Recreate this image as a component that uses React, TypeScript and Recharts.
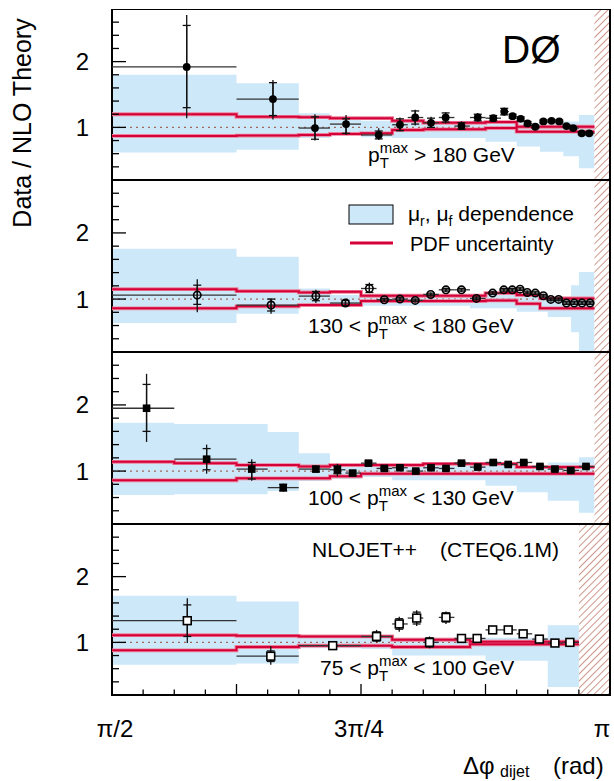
import React from 'react';
import {
  ComposedChart, Area, Line, Scatter, ErrorBar, XAxis, YAxis,
  ReferenceLine, ReferenceArea,
} from 'recharts';

const FONT = '"Liberation Sans", Arial, Helvetica, sans-serif';

// x axis: Δφ_dijet expressed in units of π
const xTicks = [0.5, 0.53125, 0.5625, 0.59375, 0.625, 0.65625, 0.6875, 0.71875, 0.75,
  0.78125, 0.8125, 0.84375, 0.875, 0.90625, 0.9375, 0.96875, 1];
const xMajorTicks = [0.5, 0.625, 0.75, 0.875, 1];
const xLabelValues = [0.5, 0.75, 1];
const xLabelTexts = ['π/2', '3π/4', 'π'];
const xLabelShift = [3, -2, -8];
const yTicks = [0.4, 0.6, 0.8, 1, 1.2, 1.4, 1.6, 1.8, 2, 2.2, 2.4, 2.6];
const yLabelValues = [1, 2];

// ---------- panel 1 : pTmax > 180 GeV ----------
const p1Edges = [0.5, 0.625, 0.6875, 0.7188, 0.75, 0.7813, 0.7969, 0.8125, 0.8281, 0.8438, 0.8594, 0.875, 0.8906,
  0.8984, 0.9063, 0.9141, 0.9219, 0.9297, 0.9375, 0.9453, 0.9531, 0.9609, 0.9688, 0.9766, 0.9844];
const p1X = [0.575, 0.6616, 0.7038, 0.735, 0.7678, 0.7891, 0.8044, 0.8203, 0.835, 0.8509, 0.8672, 0.8828,
  0.8938, 0.9022, 0.9103, 0.9172, 0.925, 0.9331, 0.9413, 0.9491, 0.9563, 0.9631, 0.9716, 0.9791];
const p1Y = [1.92, 1.43, 0.99, 1.05, 0.885, 1.04, 1.15, 1.07, 1.15, 1.02, 1.15, 1.14, 1.24, 1.17, 1.13, 1.06,
  1.01, 1.09, 1.10, 1.09, 1.02, 0.99, 0.91, 0.91];
const p1TotDn = [0.78, 0.31, 0.19, 0.165, 0.075, 0.10, 0.12, 0.08, 0.09, 0.06, 0.06, 0.05, 0.06, 0.04, 0.04, 0.04,
  0.03, 0.03, 0.03, 0.03, 0.03, 0.03, 0.03, 0.03];
const p1TotUp = [0.79, 0.29, 0.21, 0.14, 0.10, 0.11, 0.12, 0.09, 0.08, 0.07, 0.065, 0.05, 0.06, 0.04, 0.04, 0.04,
  0.03, 0.03, 0.03, 0.03, 0.03, 0.03, 0.03, 0.03];
const p1StatDn = [0.62, 0.25, 0.17, 0.14, 0.06, 0.09, 0.10, 0.07, 0.07, 0.05, 0.05, 0.04, 0.05, 0.03, 0.03, 0.03,
  0.02, 0.02, 0.02, 0.02, 0.02, 0.02, 0.02, 0.02];
const p1StatUp = [0.63, 0.25, 0.17, 0.08, 0.06, 0.09, 0.10, 0.07, 0.07, 0.05, 0.05, 0.04, 0.05, 0.03, 0.03, 0.03,
  0.02, 0.02, 0.02, 0.02, 0.02, 0.02, 0.02, 0.02];
const p1BandEdges = [0.5, 0.625, 0.6875, 0.7188, 0.75, 0.7813, 0.875, 0.9063, 0.9297, 0.9531, 0.9688, 0.9844];
const p1BandLo = [0.62, 0.66, 0.84, 0.90, 0.85, 0.84, 0.78, 0.71, 0.63, 0.56, 0.38];
const p1BandHi = [1.80, 1.67, 1.215, 1.16, 1.10, 1.10, 1.08, 1.06, 1.05, 1.09, 1.19];
const p1PdfEdges = [0.5, 0.625, 0.6875, 0.7188, 0.75, 0.7813, 0.8125, 0.875, 0.9063, 0.9844];
const p1PdfHi = [1.20, 1.16, 1.155, 1.14, 1.14, 1.10, 1.07, 1.08, 1.01];
const p1PdfLo = [0.87, 0.875, 0.885, 0.90, 0.91, 0.96, 0.97, 0.99, 0.935];

// ---------- panel 2 : 130 < pTmax < 180 GeV ----------
const p2Edges = [0.5, 0.625, 0.6875, 0.7188, 0.75, 0.7656, 0.7813, 0.7969, 0.8125, 0.8281, 0.8438, 0.8594, 0.875,
  0.8906, 0.8984, 0.9063, 0.9141, 0.9219, 0.9297, 0.9375, 0.9453, 0.9531, 0.9609, 0.9688, 0.9766, 0.9844];
const p2X = [0.5856, 0.6597, 0.7047, 0.7344, 0.7584, 0.7734, 0.7891, 0.8044, 0.82, 0.8353, 0.8509, 0.8659,
  0.8822, 0.8934, 0.9019, 0.9097, 0.9169, 0.925, 0.9331, 0.9406, 0.9484, 0.9563, 0.9641, 0.9719, 0.98];
const p2Y = [1.06, 0.91, 1.045, 0.94, 1.16, 0.99, 1.0, 0.98, 1.07, 1.14, 1.14, 1.01, 1.09, 1.14, 1.14, 1.15,
  1.10, 1.09, 1.05, 0.995, 0.995, 0.94, 0.94, 0.94, 0.94];
const p2TotDn = [0.26, 0.13, 0.105, 0.05, 0.07, 0.03, 0.03, 0.03, 0.03, 0.03, 0.03, 0.03, 0.03, 0.03, 0.03, 0.03,
  0.03, 0.03, 0.03, 0.03, 0.03, 0.03, 0.03, 0.03, 0.03];
const p2TotUp = [0.24, 0.10, 0.095, 0.05, 0.09, 0.03, 0.03, 0.03, 0.03, 0.03, 0.03, 0.03, 0.03, 0.03, 0.03, 0.03,
  0.03, 0.03, 0.03, 0.03, 0.03, 0.03, 0.03, 0.03, 0.03];
const p2StatDn = [0.14, 0.09, 0.07, 0.04, 0.06, 0.02, 0.02, 0.02, 0.02, 0.02, 0.02, 0.02, 0.02, 0.02, 0.02, 0.02,
  0.02, 0.02, 0.02, 0.02, 0.02, 0.02, 0.02, 0.02, 0.02];
const p2StatUp = [0.15, 0.09, 0.07, 0.04, 0.06, 0.02, 0.02, 0.02, 0.02, 0.02, 0.02, 0.02, 0.02, 0.02, 0.02, 0.02,
  0.02, 0.02, 0.02, 0.02, 0.02, 0.02, 0.02, 0.02, 0.02];
const p2BandEdges = [0.5, 0.625, 0.6875, 0.7188, 0.75, 0.8594, 0.9063, 0.9375, 0.9609, 0.9688, 0.9844];
const p2BandLo = [0.64, 0.78, 0.91, 0.88, 0.90, 0.86, 0.81, 0.73, 0.50, 0.2];
const p2BandHi = [1.76, 1.64, 1.16, 1.06, 1.05, 1.07, 1.05, 1.04, 1.21, 1.41];
const p2PdfEdges = [0.5, 0.625, 0.6875, 0.7188, 0.75, 0.875, 0.9063, 0.9297, 0.9844];
const p2PdfHi = [1.15, 1.12, 1.10, 1.11, 1.05, 1.09, 1.06, 1.01];
const p2PdfLo = [0.86, 0.89, 0.91, 0.91, 0.97, 0.98, 0.93, 0.86];

// ---------- panel 3 : 100 < pTmax < 130 GeV ----------
const p3Edges = [0.5, 0.5625, 0.625, 0.6563, 0.6875, 0.7188, 0.7344, 0.75, 0.7656, 0.7813, 0.7969, 0.8125, 0.8281,
  0.8438, 0.8594, 0.875, 0.8906, 0.9063, 0.9219, 0.9375, 0.9531, 0.9688, 0.9844];
const p3X = [0.5347, 0.595, 0.6403, 0.6719, 0.7047, 0.7263, 0.7416, 0.7575, 0.7734, 0.7891, 0.805, 0.8203,
  0.8353, 0.8509, 0.8672, 0.8828, 0.8978, 0.9134, 0.9297, 0.9447, 0.9606, 0.9759];
const p3Y = [1.95, 1.18, 1.03, 0.75, 1.03, 1.02, 0.97, 1.12, 1.04, 1.05, 1.0, 1.05, 1.04, 1.12, 1.06, 1.13,
  1.10, 1.13, 1.07, 1.03, 1.01, 1.07];
const p3TotDn = [0.51, 0.22, 0.175, 0.06, 0.05, 0.10, 0.04, 0.04, 0.03, 0.03, 0.03, 0.03, 0.03, 0.03, 0.03, 0.03,
  0.03, 0.03, 0.03, 0.03, 0.03, 0.03];
const p3TotUp = [0.52, 0.22, 0.15, 0.06, 0.05, 0.09, 0.04, 0.04, 0.03, 0.03, 0.03, 0.03, 0.03, 0.03, 0.03, 0.03,
  0.03, 0.03, 0.03, 0.03, 0.03, 0.03];
const p3StatDn = [0.35, 0.16, 0.15, 0.05, 0.04, 0.06, 0.03, 0.03, 0.02, 0.02, 0.02, 0.02, 0.02, 0.02, 0.02, 0.02,
  0.02, 0.02, 0.02, 0.02, 0.02, 0.02];
const p3StatUp = [0.36, 0.16, 0.10, 0.05, 0.04, 0.06, 0.03, 0.03, 0.02, 0.02, 0.02, 0.02, 0.02, 0.02, 0.02, 0.02,
  0.02, 0.02, 0.02, 0.02, 0.02, 0.02];
const p3BandEdges = [0.5, 0.5625, 0.6563, 0.6875, 0.7188, 0.75, 0.7813, 0.875, 0.9063, 0.9375, 0.9688, 0.9844];
const p3BandLo = [0.64, 0.65, 0.70, 0.85, 0.88, 0.91, 0.86, 0.78, 0.68, 0.55, 0.37];
const p3BandHi = [1.73, 1.71, 1.59, 1.27, 1.11, 1.08, 1.08, 1.08, 1.08, 1.13, 1.21];
const p3PdfEdges = [0.5, 0.5625, 0.625, 0.6875, 0.7188, 0.75, 0.8125, 0.9063, 0.9844];
const p3PdfHi = [1.14, 1.12, 1.09, 1.07, 1.09, 1.09, 1.11, 1.06];
const p3PdfLo = [0.86, 0.86, 0.89, 0.89, 0.92, 0.96, 0.96, 0.96];

// ---------- panel 4 : 75 < pTmax < 100 GeV ----------
const p4Edges = [0.5, 0.625, 0.6875, 0.75, 0.7813, 0.7969, 0.8125, 0.8281, 0.8438, 0.8594, 0.875, 0.8906, 0.9063,
  0.9219, 0.9375, 0.9531, 0.9688];
const p4X = [0.5756, 0.6594, 0.7216, 0.7656, 0.7884, 0.8059, 0.8188, 0.8353, 0.8509, 0.8666, 0.8822, 0.8978,
  0.9128, 0.9291, 0.9447, 0.9597];
const p4Y = [1.33, 0.79, 0.95, 1.09, 1.28, 1.37, 1.0, 1.38, 1.06, 1.06, 1.19, 1.19, 1.13, 1.05, 0.99, 1.00];
const p4TotDn = [0.34, 0.13, 0.05, 0.09, 0.12, 0.12, 0.09, 0.10, 0.03, 0.03, 0.03, 0.03, 0.03, 0.03, 0.03, 0.03];
const p4TotUp = [0.34, 0.15, 0.05, 0.10, 0.11, 0.12, 0.09, 0.09, 0.03, 0.03, 0.03, 0.03, 0.03, 0.03, 0.03, 0.03];
const p4StatDn = [0.24, 0.08, 0.04, 0.07, 0.08, 0.09, 0.07, 0.07, 0.02, 0.02, 0.02, 0.02, 0.02, 0.02, 0.02, 0.02];
const p4StatUp = [0.24, 0.08, 0.04, 0.07, 0.08, 0.09, 0.07, 0.07, 0.02, 0.02, 0.02, 0.02, 0.02, 0.02, 0.02, 0.02];
const p4BandEdges = [0.5, 0.625, 0.6875, 0.75, 0.7813, 0.875, 0.9375, 0.9688];
const p4BandLo = [0.66, 0.68, 0.91, 0.90, 0.80, 0.72, 0.32];
const p4BandHi = [1.71, 1.62, 1.09, 1.08, 1.07, 1.07, 1.26];
const p4PdfEdges = [0.5, 0.625, 0.6875, 0.7813, 0.8594, 0.9688];
const p4PdfHi = [1.11, 1.10, 1.09, 1.04, 1.01];
const p4PdfLo = [0.88, 0.93, 0.95, 0.93, 0.97];

const hatchStarts = [0.9844, 0.9844, 0.9844, 0.9688];

const BAND = '#cde8f9';
const RED = '#d3003a';
const RED_HALO = '#ee8199';
const HATCH = '#b0604a';

function bandRows(edges: number[], lo: number[], hi: number[]) {
  const rows = lo.map((l, i) => ({ x: edges[i], band: [l, hi[i]] }));
  rows.push({ x: edges[edges.length - 1], band: [lo[lo.length - 1], hi[hi.length - 1]] });
  return rows;
}
function pdfRows(edges: number[], lo: number[], hi: number[]) {
  const rows = lo.map((l, i) => ({ x: edges[i], lo: l, hi: hi[i] }));
  rows.push({ x: edges[edges.length - 1], lo: lo[lo.length - 1], hi: hi[hi.length - 1] });
  return rows;
}
function pointRows(edges: number[], xs: number[], ys: number[], td: number[], tu: number[], sd: number[], su: number[]) {
  return xs.map((x, i) => ({
    x, y: ys[i],
    ex: [x - edges[i], edges[i + 1] - x],
    et: [td[i], tu[i]],
    es: [sd[i], su[i]],
  }));
}

const filledCircle = (p: any) => <circle cx={p.cx} cy={p.cy} r={3.9} fill="#000" />;
const openCircle = (p: any) => <circle cx={p.cx} cy={p.cy} r={3.7} fill="none" stroke="#000" strokeWidth={1.6} />;
const filledSquare = (p: any) => <rect x={p.cx - 3.8} y={p.cy - 3.8} width={7.6} height={7.6} fill="#000" />;
const openSquare = (p: any) => (
  <rect x={p.cx - 3.9} y={p.cy - 3.9} width={7.8} height={7.8} fill="#fff" stroke="#000" strokeWidth={1.6} />
);

const panels = [
  {
    top: 9, height: 171, xh: 0, shape: filledCircle,
    pts: pointRows(p1Edges, p1X, p1Y, p1TotDn, p1TotUp, p1StatDn, p1StatUp),
    band: bandRows(p1BandEdges, p1BandLo, p1BandHi),
    pdf: pdfRows(p1PdfEdges, p1PdfLo, p1PdfHi),
  },
  {
    top: 180, height: 172, xh: 0, shape: openCircle,
    pts: pointRows(p2Edges, p2X, p2Y, p2TotDn, p2TotUp, p2StatDn, p2StatUp),
    band: bandRows(p2BandEdges, p2BandLo, p2BandHi),
    pdf: pdfRows(p2PdfEdges, p2PdfLo, p2PdfHi),
  },
  {
    top: 352, height: 172, xh: 0, shape: filledSquare,
    pts: pointRows(p3Edges, p3X, p3Y, p3TotDn, p3TotUp, p3StatDn, p3StatUp),
    band: bandRows(p3BandEdges, p3BandLo, p3BandHi),
    pdf: pdfRows(p3PdfEdges, p3PdfLo, p3PdfHi),
  },
  {
    top: 524, height: 257, xh: 86, shape: openSquare,
    pts: pointRows(p4Edges, p4X, p4Y, p4TotDn, p4TotUp, p4StatDn, p4StatUp),
    band: bandRows(p4BandEdges, p4BandLo, p4BandHi),
    pdf: pdfRows(p4PdfEdges, p4PdfLo, p4PdfHi),
  },
];

const near = (a: number, b: number) => Math.abs(a - b) < 1e-6;

const makeXTick = (showLabels: boolean) => (props: any) => {
  const { x, y, payload } = props;
  const v = payload.value;
  const major = xMajorTicks.some((m) => near(m, v));
  const len = major ? 11 : 5.5;
  const li = xLabelValues.findIndex((m) => near(m, v));
  return (
    <g>
      <line x1={x} x2={x} y1={y} y2={y - len} stroke="#000" strokeWidth={1.3} />
      {showLabels && li >= 0 && (
        <text x={x + xLabelShift[li]} y={y + 42} textAnchor="middle" fontSize={24} fontFamily={FONT} fill="#000">
          {xLabelTexts[li]}
        </text>
      )}
    </g>
  );
};

const YTick = (props: any) => {
  const { x, y, payload } = props;
  const v = payload.value;
  const major = yLabelValues.some((m) => near(m, v));
  const len = major ? 14 : 7;
  return (
    <g>
      <line x1={x} x2={x + len} y1={y} y2={y} stroke="#000" strokeWidth={1.3} />
      {major && (
        <text x={89} y={y + 8.5} textAnchor="end" fontSize={24} fontFamily={FONT} fill="#000">
          {String(v)}
        </text>
      )}
    </g>
  );
};

function Panel({ cfg, idx }: { cfg: any; idx: number }) {
  const hid = `hatch${idx}`;
  return (
    <div style={{ position: 'absolute', left: 0, top: cfg.top }}>
      <ComposedChart width={614} height={cfg.height} margin={{ top: 0, right: 4, bottom: 0, left: 0 }}>
        <defs>
          <pattern id={hid} patternUnits="userSpaceOnUse" width={5} height={5} patternTransform="rotate(45)">
            <rect x={0} y={0} width={5} height={5} fill="#fff" />
            <line x1={0} y1={0} x2={0} y2={5} stroke={HATCH} strokeWidth={1.3} />
          </pattern>
        </defs>
        <XAxis
          type="number" dataKey="x" domain={[0.5, 1]} ticks={xTicks} allowDataOverflow interval={0}
          height={cfg.xh} tickLine={false} axisLine={false} tickSize={0} tickMargin={0}
          tick={makeXTick(idx === 3)}
        />
        <YAxis
          type="number" domain={[0.2, 2.8]} ticks={yTicks} allowDataOverflow interval={0}
          width={112} tickLine={false} axisLine={false} tickSize={0} tickMargin={0} tick={YTick}
        />
        <Area
          data={cfg.band} dataKey="band" type="stepAfter" stroke="none" fill={BAND} fillOpacity={1}
          isAnimationActive={false} dot={false} activeDot={false}
        />
        <ReferenceLine
          segment={[{ x: 0.5, y: 1 }, { x: hatchStarts[idx], y: 1 }]}
          stroke="#a0685c" strokeWidth={1.4} strokeDasharray="2 4"
        />
        <Line data={cfg.pdf} dataKey="hi" type="stepAfter" stroke={RED_HALO} strokeWidth={3.8} dot={false} activeDot={false} isAnimationActive={false} />
        <Line data={cfg.pdf} dataKey="lo" type="stepAfter" stroke={RED_HALO} strokeWidth={3.8} dot={false} activeDot={false} isAnimationActive={false} />
        <Line data={cfg.pdf} dataKey="hi" type="stepAfter" stroke={RED} strokeWidth={2} dot={false} activeDot={false} isAnimationActive={false} />
        <Line data={cfg.pdf} dataKey="lo" type="stepAfter" stroke={RED} strokeWidth={2} dot={false} activeDot={false} isAnimationActive={false} />
        <ReferenceArea x1={hatchStarts[idx]} x2={1} y1={0.2} y2={2.8} fill={`url(#${hid})`} fillOpacity={1} stroke="none" />
        <Scatter data={cfg.pts} dataKey="y" shape={cfg.shape} isAnimationActive={false}>
          <ErrorBar dataKey="ex" direction="x" width={0} stroke="#333" strokeWidth={1.3} />
          <ErrorBar dataKey="et" direction="y" width={0} stroke="#111" strokeWidth={1.3} />
          <ErrorBar dataKey="es" direction="y" width={4} stroke="#111" strokeWidth={1.3} />
        </Scatter>
        <ReferenceArea x1={0.5} x2={1} y1={0.2} y2={2.8} fill="none" fillOpacity={0} stroke="#000" strokeWidth={2} />
      </ComposedChart>
    </div>
  );
}

function PtLabel({ x, y, pre, post }: { x: number; y: number; pre: string; post: string }) {
  return (
    <text x={x} y={y} fontSize={21} fontFamily={FONT} fill="#000">
      {pre}p
      <tspan fontSize={15} dy={-9}>max</tspan>
      <tspan fontSize={15} dx={-28.3} dy={15}>T</tspan>
      <tspan fontSize={21} dx={25} dy={-6}>{post}</tspan>
    </text>
  );
}

export default function App() {
  return (
    <div style={{ position: 'absolute', left: 0, top: 0, width: 614, height: 781, background: '#fff', overflow: 'hidden', fontFamily: FONT }}>
      {panels.map((cfg, i) => <Panel key={i} cfg={cfg} idx={i} />)}
      <svg width={614} height={781} style={{ position: 'absolute', left: 0, top: 0, pointerEvents: 'none' }}>
        <text transform="translate(31,123) rotate(-90)" textAnchor="middle" fontSize={25} fontFamily={FONT} fill="#000">
          Data / NLO Theory
        </text>
        <text x={502} y={63} fontSize={39} fontFamily={FONT} fill="#000">DØ</text>
        <PtLabel x={368} y={162} pre="" post="> 180 GeV" />
        <PtLabel x={308} y={333} pre="130 < " post="< 180 GeV" />
        <PtLabel x={308} y={505} pre="100 < " post="< 130 GeV" />
        <PtLabel x={320} y={675} pre="75 < " post="< 100 GeV" />
        <rect x={349} y={205} width={44} height={19} fill={BAND} stroke="#000" strokeWidth={1} />
        <text x={408} y={221} fontSize={21} fontFamily={FONT} fill="#000">
          μ<tspan fontSize={14} dy={5}>r</tspan>
          <tspan dy={-5}>, μ</tspan>
          <tspan fontSize={14} dy={5}>f</tspan>
          <tspan dy={-5}> dependence</tspan>
        </text>
        <line x1={350} x2={393} y1={243} y2={243} stroke={RED_HALO} strokeWidth={4} />
        <line x1={350} x2={393} y1={243} y2={243} stroke={RED} strokeWidth={2.2} />
        <text x={410} y={251} fontSize={20} fontFamily={FONT} fill="#000">PDF uncertainty</text>
        <text x={312} y={557} fontSize={21} fontFamily={FONT} fill="#000">NLOJET++</text>
        <text x={440} y={557} fontSize={21} fontFamily={FONT} fill="#000">(CTEQ6.1M)</text>
        <text x={463} y={774} fontSize={24} fontFamily={FONT} fill="#000">Δφ</text>
        <text x={500} y={777} fontSize={16} fontFamily={FONT} fill="#000">dijet</text>
        <text x={553} y={774} fontSize={24} fontFamily={FONT} fill="#000">(rad)</text>
      </svg>
    </div>
  );
}
